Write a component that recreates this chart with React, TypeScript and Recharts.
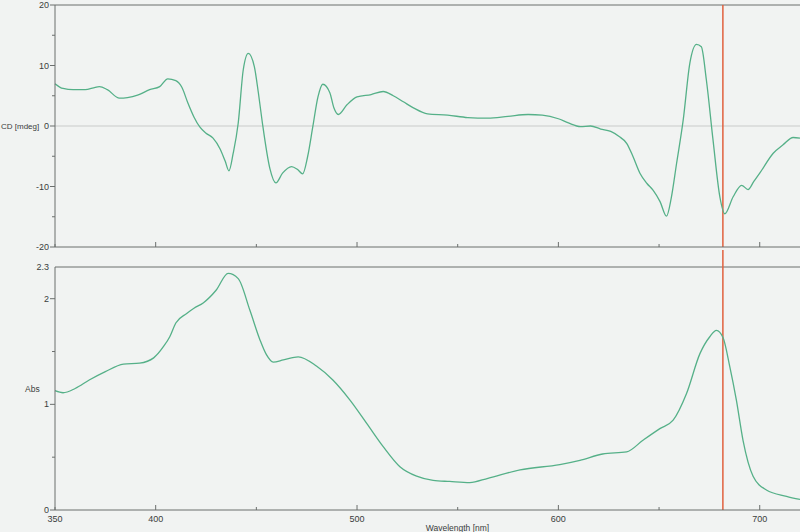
import React from 'react';
import { LineChart, Line, XAxis, YAxis, ReferenceLine } from 'recharts';

// CD spectrum (mdeg)
const cdWavelength = [
  350, 354, 359, 365, 370, 372, 376, 382, 386, 391, 397, 402, 406, 410, 413, 416, 419, 422, 425, 428.5,
  432, 434.5, 436.4, 438.5, 441, 443.5, 446, 449, 451, 453, 456.7, 459.7, 463, 467.5, 470.5, 473, 475.5,
  478, 480.6, 483, 486.5, 488.5, 490.7, 495, 500, 507, 513, 518, 523, 528, 535, 545, 555, 565, 575, 585,
  592, 600, 605, 611, 616, 621, 626, 630, 634, 637, 640.5, 644, 647, 650.5, 653.7, 656, 658.7, 662,
  665.3, 668.6, 671, 673.5, 676.8, 680.2, 682.7, 686.8, 691, 694.2, 697, 700, 706.7, 711.6, 716.6, 720,
];
const cdValues = [
  7.0, 6.2, 6.0, 6.0, 6.4, 6.5, 6.0, 4.6, 4.7, 5.1, 6.0, 6.5, 7.8, 7.5, 6.4, 3.8, 1.5, -0.2, -1.2, -2.0,
  -3.8, -5.8, -7.4, -4.5, 0.5, 9.3, 12.0, 9.8, 5.5, 0.5, -7.0, -9.4, -7.8, -6.7, -7.2, -7.9, -5.0,
  -0.2, 4.8, 6.9, 5.5, 3.0, 1.9, 3.5, 4.8, 5.2, 5.7, 5.0, 4.0, 3.0, 2.0, 1.8, 1.4, 1.3, 1.6, 1.9,
  1.8, 1.2, 0.5, -0.1, 0.0, -0.5, -0.9, -1.7, -2.9, -5.0, -7.8, -9.5, -10.6, -12.5, -14.9, -12.0, -6.2, 1.0,
  10.4, 13.5, 13.1, 7.6, -2.3, -11.7, -14.5, -11.7, -9.8, -10.5, -9.2, -7.8, -4.5, -3.1, -1.9, -2.0,
];

// absorbance
const absWavelength = [
  350, 354, 360, 367, 375, 384, 392, 399, 404, 407, 410, 415.4, 419, 423.6, 430, 436, 441, 446.8, 451.8,
  455, 458.4, 463.4, 470.8, 480, 488, 496.5, 504.8, 513, 521.3, 529.6, 537.8, 546, 556, 565, 581, 600.7,
  610.7, 622, 633.9, 642, 650.4, 657, 663.6, 670.3, 675.2, 678.5, 681.8, 685.1, 688.4, 691.7, 696.7,
  703.3, 713.3, 720,
];
const absValues = [
  1.13, 1.11, 1.15, 1.23, 1.31, 1.38, 1.39, 1.44, 1.55, 1.64, 1.77, 1.86, 1.91, 1.96, 2.08, 2.24, 2.19, 1.89, 1.61,
  1.47, 1.4, 1.42, 1.45, 1.36, 1.23, 1.04, 0.82, 0.6, 0.41, 0.32, 0.28, 0.27, 0.26, 0.3, 0.38, 0.43,
  0.47, 0.53, 0.55, 0.66, 0.77, 0.85, 1.1, 1.48, 1.64, 1.7, 1.63, 1.36, 1.04, 0.66, 0.32,
  0.19, 0.13, 0.1,
];

const xTicks = [350, 400, 450, 500, 550, 600, 650, 700];
const cdTicks = [-20, -15, -10, -5, 0, 5, 10, 15, 20];
const absTicks = [0, 0.5, 1, 1.5, 2, 2.3];
const cursorNm = 681.7;

const cdData = cdWavelength.map((nm, i) => ({ nm, cd: cdValues[i] }));
const absData = absWavelength.map((nm, i) => ({ nm, abs: absValues[i] }));

const AXIS = '#6b6f6d';
const LINE = '#55b088';
const TEXT = '#3a3d3c';
const FONT = '"Liberation Sans", Arial, sans-serif';

const xTick = (showLabel: boolean) => (props: any) => {
  const { x, y, payload } = props;
  const major = payload.value % 100 === 0;
  return (
    <g>
      <line x1={x} x2={x} y1={y} y2={y - (major ? 5 : 3)} stroke={AXIS} />
      {showLabel && (major || payload.value === 350) && (
        <text x={x} y={y + 9} textAnchor="middle" dominantBaseline="central" fontSize={9} fill={TEXT} fontFamily={FONT}>
          {payload.value}
        </text>
      )}
    </g>
  );
};

const yTick = (isMajor: (v: number) => boolean, noLine?: (v: number) => boolean) => (props: any) => {
  const { x, y, payload } = props;
  const v = payload.value;
  const major = isMajor(v);
  return (
    <g>
      {!(noLine && noLine(v)) && <line x1={x} x2={x - (major ? 5 : 3)} y1={y} y2={y} stroke={AXIS} />}
      {major && (
        <text x={x - 6} y={y} textAnchor="end" dominantBaseline="central" fontSize={9} fill={TEXT} fontFamily={FONT}>
          {v}
        </text>
      )}
    </g>
  );
};

export default function App() {
  return (
    <div style={{ position: 'absolute', left: 0, top: 0, width: 800, height: 532, background: '#f1f3f2', overflow: 'hidden' }}>
      <div style={{ position: 'absolute', left: 0, top: 0 }}>
        <LineChart width={800} height={258} data={cdData} margin={{ top: 5, right: 0, bottom: 8, left: 0 }}>
          <XAxis
            dataKey="nm"
            type="number"
            domain={[350, 720]}
            ticks={xTicks}
            interval={0}
            height={3}
            tickSize={0}
            tickMargin={0}
            stroke={AXIS}
            tick={xTick(false)}
          />
          <YAxis
            type="number"
            domain={[-20, 20]}
            ticks={cdTicks}
            interval={0}
            width={55}
            tickSize={0}
            tickMargin={0}
            stroke={AXIS}
            tick={yTick((v) => v % 10 === 0)}
            label={{ value: 'CD [mdeg]', position: 'insideLeft', offset: 1, fontSize: 8, fill: TEXT, fontFamily: FONT }}
          />
          <ReferenceLine y={20} stroke={AXIS} />
          <ReferenceLine y={0} stroke="#c9cbca" />
          <ReferenceLine x={cursorNm} stroke="#e0603e" strokeWidth={1.5} />
          <Line dataKey="cd" type="monotone" stroke={LINE} strokeWidth={1.3} dot={false} isAnimationActive={false} />
        </LineChart>
      </div>
      <div style={{ position: 'absolute', left: 0, top: 250 }}>
        <LineChart width={800} height={282} data={absData} margin={{ top: 17, right: 0, bottom: 0, left: 0 }}>
          <XAxis
            dataKey="nm"
            type="number"
            domain={[350, 720]}
            ticks={xTicks}
            interval={0}
            height={22}
            tickSize={0}
            tickMargin={0}
            stroke={AXIS}
            tick={xTick(true)}
            label={{ value: 'Wavelength [nm]', position: 'insideBottom', offset: 1, dx: 30, fontSize: 8.5, fill: TEXT, fontFamily: FONT }}
          />
          <YAxis
            type="number"
            domain={[0, 2.3]}
            ticks={absTicks}
            interval={0}
            width={55}
            tickSize={0}
            tickMargin={0}
            stroke={AXIS}
            tick={yTick((v) => Number.isInteger(v) || v === 2.3, (v) => v === 2.3)}
            label={{ value: 'Abs', position: 'insideLeft', offset: 25, fontSize: 8.5, fill: TEXT, fontFamily: FONT }}
          />
          <ReferenceLine y={2.3} stroke={AXIS} />
          <ReferenceLine
            segment={[{ x: cursorNm, y: 0 }, { x: cursorNm, y: 2.5 }]}
            ifOverflow="visible"
            stroke="#e0603e"
            strokeWidth={1.5}
          />
          <Line dataKey="abs" type="monotone" stroke={LINE} strokeWidth={1.3} dot={false} isAnimationActive={false} />
        </LineChart>
      </div>
    </div>
  );
}
